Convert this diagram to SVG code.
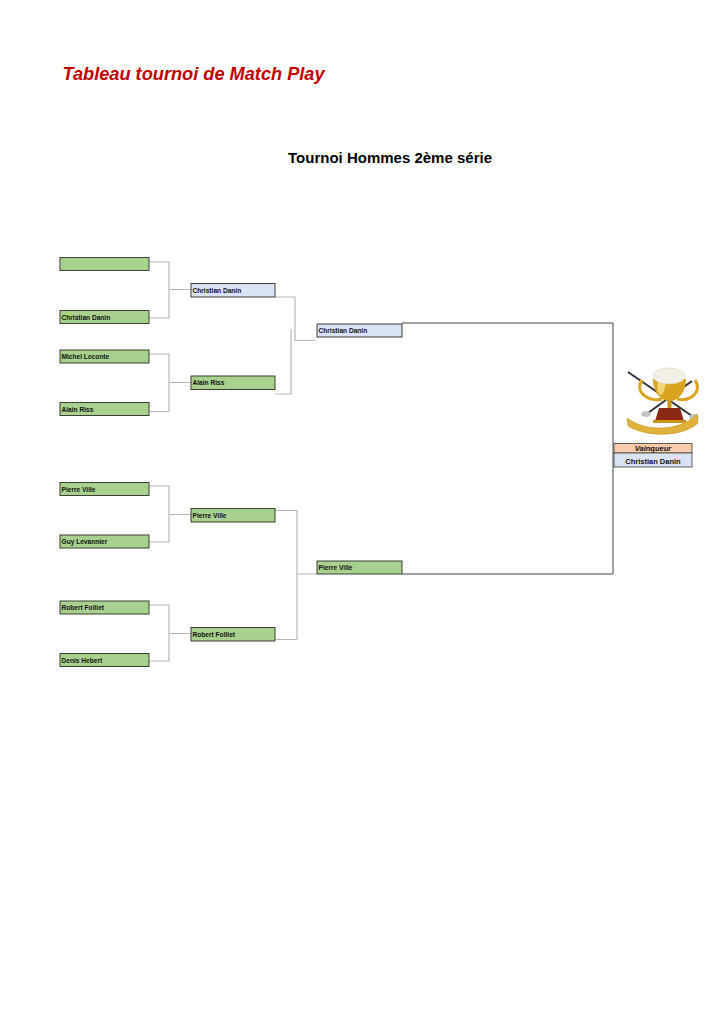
<svg xmlns="http://www.w3.org/2000/svg" width="724" height="1024" viewBox="0 0 724 1024">
<style>
.g{fill:#a9d18e;stroke:#3b3f35;stroke-width:1}
.b{fill:#dae3f3;stroke:#3b3f35;stroke-width:1}
.o{fill:#f8cbad;stroke:#3b3f35;stroke-width:0.8}
.t{font-family:"Liberation Sans",Arial,sans-serif;font-weight:bold;font-size:6.6px;fill:#111}
.c{fill:none;stroke:#b8b8b8;stroke-width:1.2}
.m{fill:none;stroke:#444;stroke-width:1}
</style>
<rect width="724" height="1024" fill="#fff"/>
<text x="62.5" y="80" font-family="Liberation Sans,Arial,sans-serif" font-weight="bold" font-style="italic" font-size="18.2" fill="#c00000">Tableau tournoi de Match Play</text>
<text x="390" y="163.3" text-anchor="middle" font-family="Liberation Sans,Arial,sans-serif" font-weight="bold" font-size="15" fill="#000">Tournoi Hommes 2ème série</text>

<g id="connectors">
<path class="c" d="M149 262H169V318H149M169 289.5H191"/>
<path class="c" d="M149 354H169V411.5H149M169 382.5H191"/>
<path class="c" d="M149 486H169V542H149M169 514.5H191"/>
<path class="c" d="M149 605H169V661H149M169 633.5H191"/>
<path class="c" d="M275 297H295V340.5H315"/>
<path class="c" d="M291 329V394H275"/>
<path class="c" d="M275 510.5H297V639.5H275M297 574H317"/>
<path class="m" d="M402 323H613V574H402"/>
</g>

<g id="r1-1"><rect class="g" x="60" y="257.5" width="89" height="13"/></g>
<g id="r1-2"><rect class="g" x="60" y="310.5" width="89" height="13"/><text class="t" x="61.5" y="319.5">Christian Danin</text></g>
<g id="r1-3"><rect class="g" x="60" y="350" width="89" height="13"/><text class="t" x="61.5" y="359">Michel Leconte</text></g>
<g id="r1-4"><rect class="g" x="60" y="402.5" width="89" height="13"/><text class="t" x="61.5" y="411.5">Alain Riss</text></g>
<g id="r1-5"><rect class="g" x="60" y="482.5" width="89" height="13"/><text class="t" x="61.5" y="491.5">Pierre Ville</text></g>
<g id="r1-6"><rect class="g" x="60" y="535" width="89" height="13"/><text class="t" x="61.5" y="544">Guy Levannier</text></g>
<g id="r1-7"><rect class="g" x="60" y="601" width="89" height="13"/><text class="t" x="61.5" y="610">Robert Folliet</text></g>
<g id="r1-8"><rect class="g" x="60" y="653.5" width="89" height="13"/><text class="t" x="61.5" y="662.5">Denis Hebert</text></g>

<g id="r2-1"><rect class="b" x="191" y="283.5" width="84" height="13.5"/><text class="t" x="192.5" y="292.7">Christian Danin</text></g>
<g id="r2-2"><rect class="g" x="191" y="376" width="84" height="13.5"/><text class="t" x="192.5" y="385.2">Alain Riss</text></g>
<g id="r2-3"><rect class="g" x="191" y="508.5" width="84" height="13.5"/><text class="t" x="192.5" y="517.7">Pierre Ville</text></g>
<g id="r2-4"><rect class="g" x="191" y="627.5" width="84" height="13.5"/><text class="t" x="192.5" y="636.7">Robert Folliet</text></g>

<g id="r3-1"><rect class="b" x="317" y="324" width="85" height="13"/><text class="t" x="318.5" y="333">Christian Danin</text></g>
<g id="r3-2"><rect class="g" x="317" y="561" width="85" height="13"/><text class="t" x="318.5" y="570">Pierre Ville</text></g>

<g id="trophy">
<line x1="628" y1="372" x2="692" y2="416" stroke="#333" stroke-width="2"/>
<line x1="692" y1="381" x2="648" y2="413" stroke="#333" stroke-width="2"/>
<ellipse cx="694" cy="417" rx="5" ry="3" fill="#c4c4c4"/>
<ellipse cx="646" cy="414" rx="5" ry="3" fill="#c4c4c4"/>
<path d="M642 380C634 392 648 402 662 399" fill="none" stroke="#d9a521" stroke-width="3"/>
<path d="M695 380C703 392 690 402 677 399" fill="none" stroke="#d9a521" stroke-width="3"/>
<path d="M653 379H686C686 393 678 401 669.5 401C661 401 653 393 653 379Z" fill="#d9a521"/>
<path d="M658 381H666C665 391 662 396 660 395C657 392 657 387 658 381Z" fill="#f5df8a" opacity="0.85"/>
<ellipse cx="669" cy="376" rx="16" ry="8" fill="#f3f1e6" stroke="#d8d5c4" stroke-width="0.6"/>
<rect x="667.5" y="400" width="4" height="8" fill="#c8941a"/>
<path d="M659 408H680L684 421H655Z" fill="#8b2a14"/>
<rect x="653" y="420" width="33" height="3" fill="#c8941a"/>
<path d="M627 418C645 432 680 432 697 414L698 423C682 438 645 437 628 426Z" fill="#e0b13a" stroke="#b8860b" stroke-width="0.5"/>
</g>

<g id="winner">
<rect class="o" x="614" y="443.5" width="78" height="9.5"/>
<text x="653" y="451" text-anchor="middle" font-family="Liberation Sans,Arial,sans-serif" font-weight="bold" font-style="italic" font-size="7.5" fill="#111">Vainqueur</text>
<rect class="b" x="614" y="453" width="78" height="14" style="stroke-width:0.8"/>
<text x="653" y="463.5" text-anchor="middle" font-family="Liberation Sans,Arial,sans-serif" font-weight="bold" font-size="7.5" fill="#111">Christian Danin</text>
</g>
</svg>
